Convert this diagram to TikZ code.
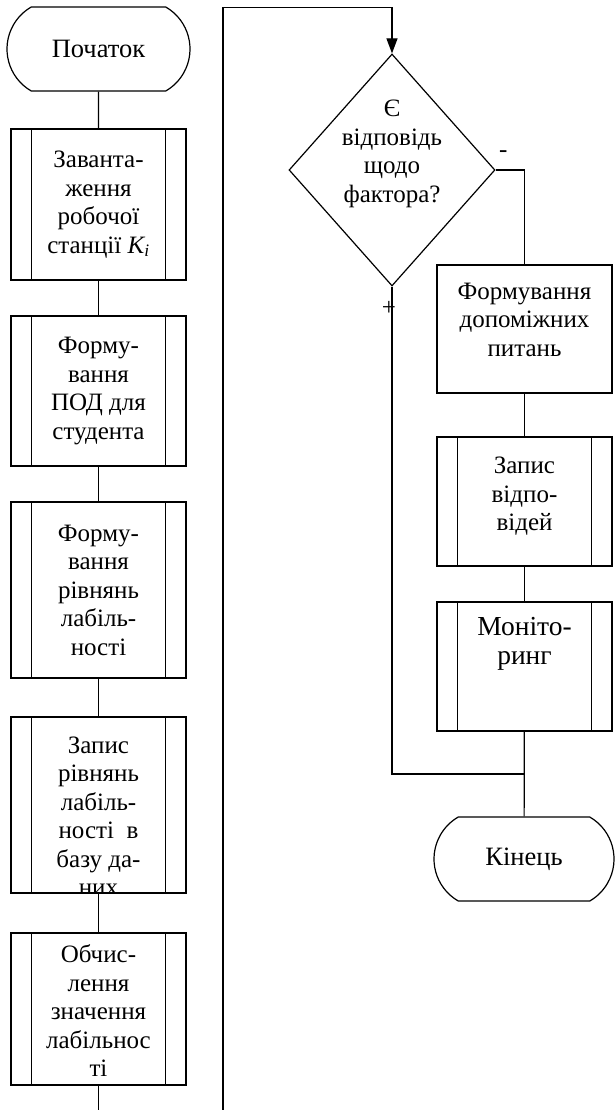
\documentclass[tikz,border=0pt]{standalone}
\usepackage{fontspec}
\setmainfont{Liberation Serif}
\usepackage{tikz}
\usetikzlibrary{calc, positioning, shapes.geometric, shapes.misc, arrows.meta}

\newcommand{\liftlines}[2]{\raisebox{#1}[\height][\depth]{\begin{tabular}{@{}c@{}}#2\end{tabular}}}

\tikzset{
        term/.style={draw, rounded rectangle, rounded rectangle arc length=120, minimum width=183pt, minimum height=84pt, inner sep=0pt, font=\fontsize{26.5}{30}\selectfont},
        subproc/.style={draw, rectangle, minimum width=175pt, inner sep=0pt},
        proc/.style={draw, rectangle, minimum width=175pt, inner sep=0pt},
        decision/.style={draw, diamond, shape aspect=0.89, minimum width=206pt, minimum height=232pt, inner sep=0pt},
        sign/.style={inner sep=0pt},
        link/.style={line width=1.2pt},
}

\begin{document}
\begin{tikzpicture}[x=1pt, y=-1pt, line width=1.2pt, font=\fontsize{25}{28.5}\selectfont, every node/.style={align=center}]
        \useasboundingbox (0,0) rectangle (614,1110);

        \node[term] (start) at (98.5,49) {Початок};
        \node[subproc, minimum height=151pt] (b1) at (98.5,204.5) {Заванта-\\ження\\робочої\\станції {\itshape K}\textsubscript{\itshape i}};
        \node[subproc, minimum height=150pt] (b2) at (98.5,391) {Форму-\\вання\\ПОД для\\студента};
        \node[subproc, minimum height=176pt] (b3) at (98.5,590) {Форму-\\вання\\рівнянь\\лабіль-\\ності};
        \node[subproc, minimum height=176pt, path picture={
                \node[anchor=base, inner sep=0pt] at ([yshift=-36pt]path picture bounding box.north)
                        {\begin{tabular}[t]{@{}c@{}}Запис\\рівнянь\\лабіль-\\ності~~в\\базу да-\\них\end{tabular}};
        }] (b4) at (98.5,805) {};
        \node[subproc, minimum height=152pt] (b5) at (98.5,1009) {\liftlines{-5pt}{Обчис-\\лення\\значення\\лабільнос\\ті}};

        \node[decision] (q) at (392,170) {\liftlines{16pt}{Є\\відповідь\\щодо\\фактора?}};
        \node[proc, minimum height=128pt] (b6) at (524.5,329) {\liftlines{7pt}{Формування\\допоміжних\\питань}};
        \node[subproc, minimum height=129pt] (b7) at (524.5,501.5) {\liftlines{5pt}{Запис\\відпо-\\відей}};
        \node[subproc, minimum height=129pt, font=\fontsize{27.5}{28.5}\selectfont] (b8) at (524.5,666.5) {\liftlines{22pt}{Моніто-\\ринг}};
        \node[term, minimum width=180pt] (end) at (524,859) {Кінець};

        \node[sign, above right=12pt and 3pt of q.east] (minus) {-};
        \node[sign, below=14pt of q.south, xshift=-3pt] (plus) {+};

        \foreach \b in {b1, b2, b3, b4, b5, b7, b8} {
                \draw ([xshift=21pt]\b.north west) -- ([xshift=21pt]\b.south west);
                \draw ([xshift=-21pt]\b.north east) -- ([xshift=-21pt]\b.south east);
        }

        \coordinate (cut1) at (b5.south |- 0,1112);
        \coordinate (cut2) at (223,1112);
        \coordinate (turn) at ([yshift=46pt]q.north);
        \coordinate (mrg) at ($(b8.south)!0.5!(end.north)$);

        \draw[link] (start) -- (b1);
        \draw[link] (b1) -- (b2);
        \draw[link] (b2) -- (b3);
        \draw[link] (b3) -- (b4);
        \draw[link] (b4) -- (b5);
        \draw[link] (b5) -- (cut1);
        \draw[link, -{Triangle[length=15pt, width=11pt]}] (cut2) |- (turn) -- (q.north);
        \draw[link] (q.east) -| (b6.north);
        \draw[link] (b6) -- (b7);
        \draw[link] (b7) -- (b8);
        \draw[link] (b8) -- (end);
        \draw[link] (q.south) |- (mrg);
\end{tikzpicture}
\end{document}
